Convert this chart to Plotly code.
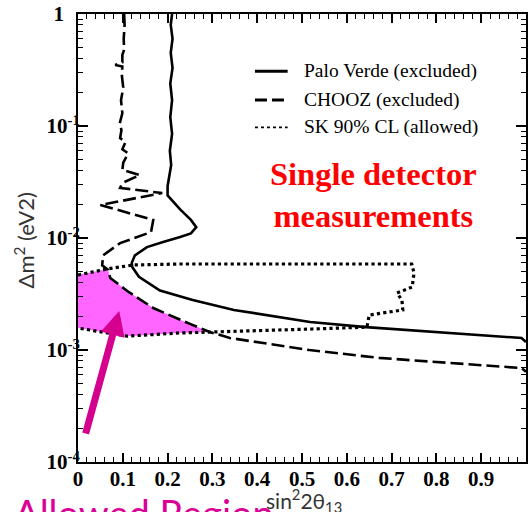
import plotly.graph_objects as go
import math

# ---------------- data ----------------
# Palo Verde exclusion contour (solid)
pv_x = [0.210, 0.207, 0.211, 0.207, 0.211, 0.206, 0.210, 0.206, 0.210, 0.205, 0.208, 0.203,
        0.200, 0.200, 0.228, 0.252, 0.264, 0.252, 0.228, 0.190, 0.154, 0.127, 0.120, 0.121,
        0.136, 0.183, 0.256, 0.348, 0.518, 0.643, 0.821, 0.990, 1.000]
pv_y = [1.0, 0.8, 0.6, 0.45, 0.33, 0.24, 0.17, 0.12, 0.085, 0.06, 0.045, 0.035,
        0.029, 0.024, 0.018, 0.0145, 0.0125, 0.011, 0.0102, 0.0092, 0.0083, 0.0070, 0.0060, 0.0055,
        0.0045, 0.0034, 0.0028, 0.00228, 0.00178, 0.0016, 0.00142, 0.00128, 0.00118]

# CHOOZ exclusion contour (dashed)
chooz_x = [0.103, 0.104, 0.102, 0.103, 0.099, 0.099, 0.083, 0.099, 0.098, 0.101, 0.096, 0.099,
           0.093, 0.097, 0.094, 0.106, 0.099, 0.112, 0.101, 0.099, 0.138, 0.099, 0.094, 0.188,
           0.050, 0.168, 0.163, 0.094, 0.056, 0.054, 0.067, 0.072, 0.110, 0.168, 0.250, 0.294,
           0.339, 0.516, 0.672, 0.821, 0.990, 1.000]
chooz_y = [1.0, 0.8, 0.6, 0.48, 0.43, 0.37, 0.35, 0.34, 0.28, 0.22, 0.17, 0.13,
           0.105, 0.092, 0.078, 0.072, 0.062, 0.057, 0.047, 0.0405, 0.0365, 0.031, 0.028, 0.0252,
           0.0197, 0.0145, 0.0113, 0.0090, 0.0070, 0.0057, 0.0052, 0.0044, 0.00336, 0.00237, 0.00171, 0.00145,
           0.00128, 0.00100, 0.00085, 0.000766, 0.00069, 0.00064]

# SK 90% CL allowed contour (dotted)
sk_x = [0.0, 0.065, 0.123, 0.228, 0.745, 0.750, 0.746, 0.712, 0.723, 0.725, 0.650, 0.645,
        0.523, 0.301, 0.228, 0.110, 0.0]
sk_y = [0.00467, 0.00529, 0.00574, 0.00586, 0.00586, 0.00487, 0.00365, 0.00323, 0.00279, 0.00228,
        0.00205, 0.00160, 0.00154, 0.00145, 0.00142, 0.00133, 0.00157]

# Allowed region (inside SK, outside CHOOZ)
allowed_x = [0.0, 0.065, 0.067, 0.072, 0.110, 0.168, 0.250, 0.294, 0.228, 0.110, 0.0]
allowed_y = [0.00467, 0.00529, 0.0052, 0.0044, 0.00336, 0.00237, 0.00171, 0.00145, 0.00142, 0.00133, 0.00157]

x_tick_vals = [0, 0.1, 0.2, 0.3, 0.4, 0.5, 0.6, 0.7, 0.8, 0.9, 1.0]
x_tick_text = ["0", "0.1", "0.2", "0.3", "0.4", "0.5", "0.6", "0.7", "0.8", "0.9", "1"]
y_tick_vals = [1e-4, 1e-3, 1e-2, 1e-1, 1]
y_tick_text = ["10<sup>-4</sup>", "10<sup>-3</sup>", "10<sup>-2</sup>", "10<sup>-1</sup>",
               "1&nbsp;&nbsp;&nbsp;"]

legend_names = ["Palo Verde (excluded)", "CHOOZ (excluded)", "SK 90% CL (allowed)"]

# ---------------- figure ----------------
fig = go.Figure()
fig.add_trace(go.Scatter(x=allowed_x, y=allowed_y, mode="lines", fill="toself",
                         fillcolor="#ff66ff", line=dict(width=0), hoverinfo="skip"))
fig.add_trace(go.Scatter(x=sk_x, y=sk_y, mode="lines",
                         line=dict(color="black", width=3.2, dash="dot")))
fig.add_trace(go.Scatter(x=chooz_x, y=chooz_y, mode="lines",
                         line=dict(color="black", width=2.6, dash="13px,5px")))
fig.add_trace(go.Scatter(x=pv_x, y=pv_y, mode="lines",
                         line=dict(color="black", width=2.6)))

tickfont = dict(family="Liberation Serif", size=21, color="black")
fig.update_xaxes(range=[0, 1], showline=True, linecolor="black", linewidth=2, mirror="ticks",
                 ticks="inside", ticklen=9, tickwidth=1.5, tickcolor="black",
                 tickvals=x_tick_vals, ticktext=["<b>" + t + "</b>" for t in x_tick_text],
                 tickfont=tickfont, ticklabelstandoff=-3,
                 minor=dict(ticks="inside", ticklen=5, tickwidth=1.2, tickcolor="black",
                            tickvals=[i / 50 for i in range(51) if i % 5]),
                 showgrid=False, zeroline=False)
fig.update_yaxes(type="log", range=[-4, 0], showline=True, linecolor="black", linewidth=2,
                 mirror="ticks", ticks="inside", ticklen=10, tickwidth=1.5, tickcolor="black",
                 tickvals=y_tick_vals, ticktext=["<b>" + t + "</b>" for t in y_tick_text],
                 tickfont=tickfont, ticklabelstandoff=-8,
                 minor=dict(ticks="inside", ticklen=5, tickwidth=1.2, tickcolor="black",
                            tickvals=[k * 10 ** e for e in range(-4, 0) for k in range(2, 10)]),
                 showgrid=False, zeroline=False)

# legend (manual)
leg_rows_y = [0.872, 0.808, 0.747]
leg_styles = [dict(color="black", width=3), dict(color="black", width=3, dash="12px,5px"),
              dict(color="black", width=1.6, dash="dot")]
for name, yy, st in zip(legend_names, leg_rows_y, leg_styles):
    fig.add_shape(type="line", xref="paper", yref="paper", x0=0.395, x1=0.468, y0=yy, y1=yy, line=st)
    fig.add_annotation(xref="paper", yref="paper", x=0.50, y=yy, text=name, showarrow=False,
                       xanchor="left", yanchor="middle",
                       font=dict(family="Liberation Serif", size=19.5, color="black"))

fig.add_annotation(xref="paper", yref="paper", x=0.66, y=0.595,
                   text="Single detector<br>measurements", showarrow=False,
                   xanchor="center", yanchor="middle",
                   font=dict(family="Liberation Serif", size=32.5, color="#ff0000", weight="bold"))

# arrow
fig.add_annotation(xref="x", yref="y", x=0.092, y=math.log10(0.00223), text="",
                   showarrow=True, arrowhead=2, arrowsize=0.7, arrowwidth=7, arrowcolor="#d6008f",
                   ax=-34, ay=124)

# axis titles
fig.add_annotation(xref="paper", yref="paper", x=-0.12, y=0.495,
                   text="Δm<sup>2</sup> (eV2)", textangle=-90, showarrow=False,
                   xanchor="center", yanchor="middle",
                   font=dict(family="Lato", size=22, color="#333333"))

fig.add_annotation(xref="paper", yref="paper", x=-0.148, y=-0.058,
                   text="Allowed Region", showarrow=False, xanchor="left", yanchor="top",
                   font=dict(family="Lato", size=38, color="#db0096"))

fig.add_annotation(xref="paper", yref="paper", x=0.505, y=-0.086,
                   text="sin<sup>2</sup>2θ<sub>13</sub>", showarrow=False,
                   xanchor="center", yanchor="middle", bgcolor="rgba(0,0,0,0)",
                   font=dict(family="Lato", size=21, color="#333333"))

fig.update_layout(width=529, height=512, margin=dict(l=78, r=1, t=14, b=50),
                  plot_bgcolor="white", paper_bgcolor="white", showlegend=False,
                  font=dict(family="Liberation Serif", size=21, color="black"))

fig.write_html("out.html")
